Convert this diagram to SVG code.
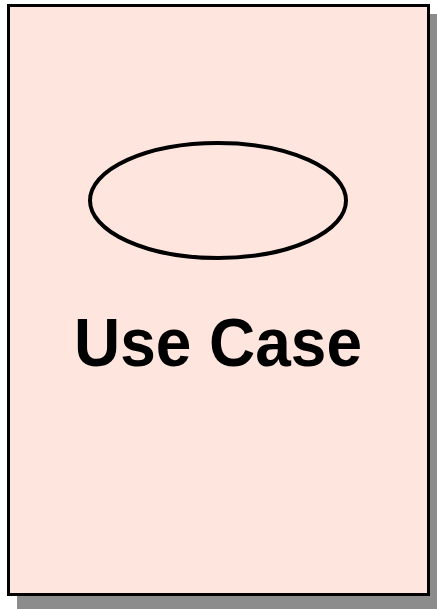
<svg xmlns="http://www.w3.org/2000/svg" width="437" height="609" viewBox="0 0 437 609">
<style>
.shadow{fill:#8c8c8c;stroke:none}
.frame{fill:#fee6de;stroke:#000;stroke-width:3}
.uc{fill:none;stroke:#000;stroke-width:4}
.lbl{font-family:"Liberation Sans",Arial,sans-serif;font-weight:bold;font-size:68px;fill:#000}
</style>
<rect width="437" height="609" fill="#fff"/>
<g id="usecase-card">
<rect class="shadow" x="17" y="14" width="422" height="597"/>
<rect class="frame" x="8.5" y="5.5" width="420" height="589"/>
<ellipse class="uc" cx="218" cy="200.5" rx="128" ry="57.5"/>
<text class="lbl" x="218" y="366" text-anchor="middle" textLength="288" lengthAdjust="spacingAndGlyphs">Use Case</text>
</g>
</svg>
